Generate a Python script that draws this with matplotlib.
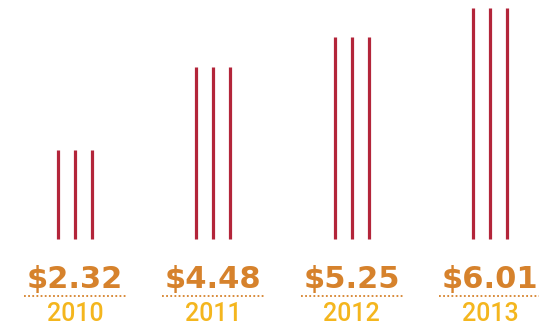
import matplotlib
matplotlib.use("Agg")
import matplotlib.pyplot as plt

# Data
years = ["2010", "2011", "2012", "2013"]
values = [2.32, 4.48, 5.25, 6.01]
value_labels = ["$2.32", "$4.48", "$5.25", "$6.01"]

RED = "#B3253A"
ORANGE = "#D6822C"
YELLOW = "#F4B61E"

fig = plt.figure(figsize=(5.39, 3.28), dpi=100)
ax = fig.add_axes([0, 0, 1, 1])
ax.set_xlim(-0.542, 3.354)
ax.set_ylim(-2.305, 6.219)
ax.axis("off")

offsets = [-0.123, 0.0, 0.123]
for i, (v, lab, yr) in enumerate(zip(values, value_labels, years)):
    # three thin lines per year
    for off in offsets:
        ax.vlines(i + off, 0, v, color=RED, linewidth=2.3)
    ax.text(i, -1.266, lab, ha="center", va="baseline", color=ORANGE,
            fontsize=22, fontweight="heavy", family="DejaVu Sans")
    ax.plot([i - 0.369, i + 0.369], [-1.48, -1.48], color=ORANGE,
            linewidth=1.3, linestyle=(0, (1, 1.3)))
    ax.text(i, -2.125, yr, ha="center", va="baseline", color=YELLOW,
            fontsize=18, fontweight="medium", family="Roboto")

fig.savefig("out.png", dpi=100)
